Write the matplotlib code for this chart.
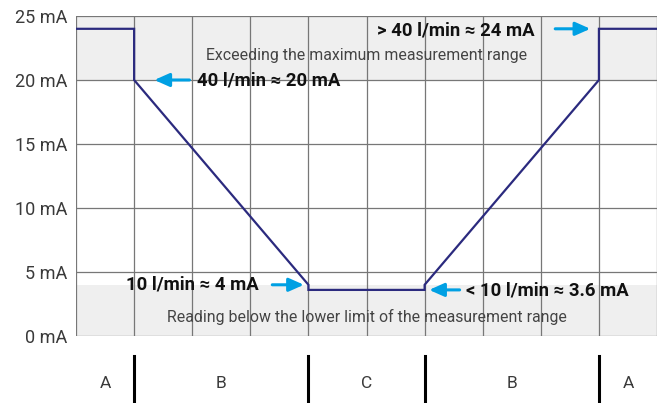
import matplotlib.pyplot as plt

plt.rcParams['font.family'] = ['Roboto', 'DejaVu Sans']

# signal curve (x in grid columns, y in mA)
curve_x = [0, 1, 1, 4, 4, 6, 6, 9, 9, 10]
curve_y = [24, 24, 20, 4, 3.6, 3.6, 4, 20, 24, 24]

yticks = [0, 5, 10, 15, 20, 25]
ytick_labels = ['%d mA' % v for v in yticks]

zone_labels = ['A', 'B', 'C', 'B', 'A']
zone_centers = [0.5, 2.5, 5, 7.5, 9.5]
zone_bounds = [1, 4, 6, 9]

upper_band = (20, 25)
lower_band = (0, 4)

navy = '#2b2a7e'
arrow_blue = '#00a0e3'
grid_gray = '#777777'
band_gray = '#efefef'

fig = plt.figure(figsize=(6.64, 4.03), dpi=100)
ax = fig.add_axes([0.1145, 0.1663, 0.875, 0.794])

ax.axhspan(*upper_band, color=band_gray, zorder=0, lw=0)
ax.axhspan(*lower_band, color=band_gray, zorder=0, lw=0)

for i in range(11):
    ax.axvline(i, color=grid_gray, lw=0.9, zorder=1)
for v in yticks:
    ax.axhline(v, color=grid_gray, lw=0.9, zorder=1)

ax.plot(curve_x, curve_y, color=navy, lw=1.6, zorder=3, solid_joinstyle='miter')

ax.set_xlim(0, 10)
ax.set_ylim(0, 25)
ax.set_xticks([])
ax.set_yticks(yticks)
ax.set_yticklabels(ytick_labels, fontsize=13, color='#3a3a3a')
ax.tick_params(axis='y', length=0, pad=6)
for s in ax.spines.values():
    s.set_visible(False)

# band captions
ax.text(5, 21.9, 'Exceeding the maximum measurement range', ha='center', va='center',
        fontsize=11.4, color='#444444', zorder=2)
ax.text(5, 1.45, 'Reading below the lower limit of the measurement range', ha='center',
        va='center', fontsize=11.4, color='#444444', zorder=2)

# value callouts
bold = dict(fontsize=13.3, fontweight='bold', color='#111111', zorder=4)
ax.text(2.08, 19.95, '40 l/min \u2248 20 mA', ha='left', va='center', **bold)
ax.text(7.9, 23.85, '> 40 l/min \u2248 24 mA', ha='right', va='center', **bold)
ax.text(3.15, 4.0, '10 l/min \u2248 4 mA', ha='right', va='center', **bold)
ax.text(6.72, 3.55, '< 10 l/min \u2248 3.6 mA', ha='left', va='center', **bold)

arr = dict(arrowstyle='-|>,head_length=0.9,head_width=0.4', color=arrow_blue, lw=2.2)
ax.annotate('', xy=(1.3, 20), xytext=(2.0, 20), arrowprops=arr, zorder=4)
ax.annotate('', xy=(8.9, 24), xytext=(8.2, 24), arrowprops=arr, zorder=4)
ax.annotate('', xy=(3.97, 4.0), xytext=(3.33, 4.0), arrowprops=arr, zorder=4)
ax.annotate('', xy=(6.03, 3.6), xytext=(6.65, 3.6), arrowprops=arr, zorder=4)

# zone strip below the chart
for b in zone_bounds:
    ax.plot([b, b], [-0.063, -0.21], color='black', lw=2.2,
            transform=ax.get_xaxis_transform(), clip_on=False)
for c, lab in zip(zone_centers, zone_labels):
    ax.text(c, -0.147, lab, ha='center', va='center', fontsize=12.5, color='#3a3a3a',
            transform=ax.get_xaxis_transform())

fig.savefig('out.png', dpi=100)
